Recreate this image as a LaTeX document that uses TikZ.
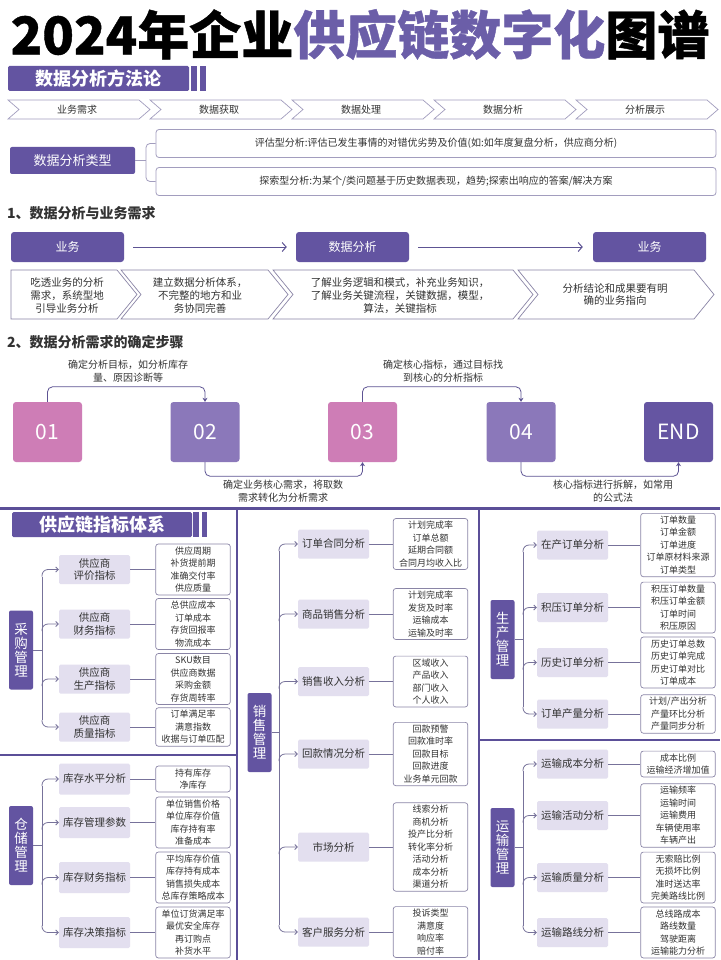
\documentclass[tikz,border=0pt]{standalone}
\usepackage{fontspec}
\setmainfont{Noto Sans CJK SC}
\newfontfamily\titlefont[BoldFeatures={FakeBold=0.8}]{Noto Sans CJK SC}
\usetikzlibrary{arrows.meta}
\definecolor{pur}{HTML}{6354A1}
\definecolor{tpur}{HTML}{6B5EA8}
\definecolor{lav}{HTML}{E3DFEF}
\definecolor{lbd}{HTML}{8A85A6}
\definecolor{chv}{HTML}{A29DBE}
\definecolor{txt}{HTML}{333333}
\definecolor{pinkc}{HTML}{CE7DB6}
\definecolor{mpur}{HTML}{8B78BA}
\definecolor{dpur}{HTML}{6555A2}
\definecolor{divc}{HTML}{5B4F98}
\definecolor{brc}{HTML}{77729A}
\definecolor{fc}{HTML}{5D5393}
\tikzset{
 secbox/.style={fill=pur, text=white, rounded corners=1.5pt, inner sep=0, font=\fontsize{18}{18}\selectfont\bfseries},
 bizbox/.style={fill=pur, text=white, rounded corners=3pt, minimum width=113, minimum height=30, inner sep=0, font=\fontsize{12}{12}\selectfont},
 chev/.style={draw=chv, line width=0.7pt, fill=white},
 chevlbl/.style={text=txt, inner sep=0, font=\fontsize{10}{10}\selectfont},
 chevtxt/.style={text=txt, inner sep=0, align=center, font=\fontsize{10.5}{12.7}\selectfont},
 typebox/.style={draw=chv, line width=0.8pt, fill=white, rounded corners=3pt, minimum width=560, minimum height=28, inner sep=0, text=txt, font=\fontsize{10}{10}\selectfont},
 heading/.style={anchor=west, inner sep=0, text=txt, font=\fontsize{14}{14}\selectfont\bfseries},
 stepbox/.style={minimum width=69, minimum height=60, rounded corners=3pt, inner sep=0, text=white, font=\fontsize{21}{21}\selectfont},
 flow/.style={draw=fc, line width=0.8pt, rounded corners=5pt, -{Stealth[length=4pt,width=5pt]}},
 flowlbl/.style={text=txt, inner sep=0, align=center, font=\fontsize{10}{13}\selectfont},
 arr1/.style={draw=fc, line width=1pt, -{Straight Barb[length=4pt,width=9pt]}},
 divline/.style={draw=divc, line width=2pt},
 midbox/.style={fill=lav, rounded corners=1.5pt, minimum width=71, minimum height=29, inner sep=0, align=center, text=txt, font=\fontsize{10.5}{12.5}\selectfont},
 leafbox/.style={draw=lbd, fill=white, line width=0.7pt, rounded corners=2.5pt, align=center, minimum width=74.5, inner xsep=0, inner ysep=2.5pt, text=txt, font=\fontsize{9}{12.5}\selectfont},
 vbox/.style={fill=pur, rounded corners=2pt, minimum width=24, minimum height=79, inner sep=0, align=center, text=white, font=\fontsize{13.5}{14}\selectfont},
 branch/.style={draw=brc, line width=0.8pt, rounded corners=6pt, -{Straight Barb[length=2.5pt,width=5pt]}},
 bline/.style={draw=brc, line width=0.8pt},
 conn/.style={draw=brc, line width=0.8pt}
}
% name, trunk x, mid x, leaf x, y, mid text, leaf text, offset
\newcommand{\mkbr}[8]{%
 \node[midbox] (#1m) at (#3,#5) {#6};
 \node[leafbox] (#1l) at (#4,#5) {#7};
 \draw[conn] (#1m.east) -- (#1l.west);
 \draw[branch] (#2,#5#8) |- (#1m.west);
}
\newcommand{\chevA}[3]{%
 \draw[chev] (#1,100) -- ++(131,0) -- ++(11,9.5) -- ++(-11,9.5) -- ++(-131,0) -- ++(11,-9.5) -- cycle;
 \node[chevlbl] (#3) at (#1+69,109.5) {#2};
}
\begin{document}
\begin{tikzpicture}[x=1pt,y=-1pt]
\useasboundingbox[fill=white] (0,0) rectangle (720,960);

% Title
\node[inner sep=0] (title) at (360,34.5) {\titlefont\fontsize{52}{52}\selectfont\bfseries 2024年企业\textcolor{tpur}{供应链数字化}图谱};

% Methodology header
\node[secbox, minimum width=181, minimum height=25] (meth) at (98.5,78.5) {数据分析方法论};
\fill[pur] (191,66) rectangle (197,91);
\fill[pur] (200,66) rectangle (206,91);

% chevron row
\chevA{8}{业务需求}{c1}
\chevA{150}{数据获取}{c2}
\chevA{292}{数据处理}{c3}
\chevA{434}{数据分析}{c4}
\chevA{576}{分析展示}{c5}

% analysis types
\node[fill=pur, text=white, rounded corners=2pt, minimum width=125, minimum height=27, inner sep=0, font=\fontsize{13}{13}\selectfont] (atype) at (72.5,160.5) {数据分析类型};
\node[typebox] (eval) at (436,143.5) {评估型分析:评估已发生事情的对错优劣势及价值(如:如年度复盘分析，供应商分析)};
\node[typebox] (expl) at (436,181.5) {探索型分析:为某个/类问题基于历史数据表现，趋势;探索出响应的答案/解决方案};
\coordinate (bk) at (146,160.5);
\draw[draw=chv, line width=0.8pt, rounded corners=4pt] (eval.west) -- (146,143.5) -- (146,181.5) -- (expl.west);
\draw[draw=chv, line width=0.8pt] (atype.east) -- (bk);

% Section 1
\node[heading] (h1) at (7,213.5) {1、数据分析与业务需求};
\node[bizbox] (t1) at (67.5,247) {业务};
\node[bizbox] (t2) at (352.5,247) {数据分析};
\node[bizbox] (t3) at (649.5,247) {业务};
\draw[arr1] ([xshift=9pt]t1.east) -- ([xshift=-9pt]t2.west);
\draw[arr1] ([xshift=9pt]t2.east) -- ([xshift=-10pt]t3.west);

\draw[chev, draw=lbd] (11,270) -- (117,270) -- (137,294.5) -- (117,319) -- (11,319) -- cycle;
\draw[chev, draw=lbd] (121,270) -- (268,270) -- (288,294.5) -- (268,319) -- (121,319) -- (141,294.5) -- cycle;
\draw[chev, draw=lbd] (273,270) -- (513,270) -- (533,294.5) -- (513,319) -- (273,319) -- (293,294.5) -- cycle;
\draw[chev, draw=lbd] (518,270) -- (694,270) -- (714,294.5) -- (694,319) -- (518,319) -- (538,294.5) -- cycle;
\node[chevtxt] (r1) at (67,295.5) {吃透业务的分析\\需求，系统型地\\引导业务分析};
\node[chevtxt] (r2) at (200,295.5) {建立数据分析体系，\\不完整的地方和业\\务协同完善};
\node[chevtxt] (r3) at (400,295.5) {了解业务逻辑和模式，补充业务知识，\\了解业务关键流程，关键数据，模型，\\算法，关键指标};
\node[chevtxt] (r4) at (615,294.5) {分析结论和成果要有明\\确的业务指向};

% Section 2
\node[heading] (h2) at (7,342) {2、数据分析需求的确定步骤};
\node[stepbox, fill=pinkc] (s1) at (47.5,432) {01};
\node[stepbox, fill=mpur] (s2) at (205,432) {02};
\node[stepbox, fill=pinkc] (s3) at (362.5,432) {03};
\node[stepbox, fill=mpur] (s4) at (521,432) {04};
\node[stepbox, fill=dpur] (s5) at (678.5,432) {END};
\draw[flow] (s1.north) -- ++(0,-15) -| (s2.north);
\draw[flow] (s2.south) -- ++(0,14) -| (s3.south);
\draw[flow] (s3.north) -- ++(0,-15) -| (s4.north);
\draw[flow] (s4.south) -- ++(0,14) -| (s5.south);
\node[flowlbl] (l1) at (128,371.5) {确定分析目标，如分析库存\\量、原因诊断等};
\node[flowlbl] (l2) at (283,491) {确定业务核心需求，将取数\\需求转化为分析需求};
\node[flowlbl] (l3) at (443,371.5) {确定核心指标，通过目标找\\到核心的分析指标};
\node[flowlbl] (l4) at (613,491) {核心指标进行拆解，如常用\\的公式法};

% Frame of bottom part
\draw[draw=divc, line width=3pt] (0,508) -- (720,508);
\draw[divline] (237,508) -- (237,960);
\draw[divline] (479,508) -- (479,960);
\draw[divline] (0,755) -- (237,755);
\draw[divline] (479,740) -- (720,740);

\node[secbox, minimum width=180, minimum height=25] (sci) at (102,524.5) {供应链指标体系};
\fill[pur] (193,512) rectangle (199,537);
\fill[pur] (202,512) rectangle (207,537);

% Purchasing
\node[vbox] (va) at (21,650) {采\\购\\管\\理};
\mkbr{a1}{42}{94.5}{193}{569.5}{供应商\\评价指标}{供应周期\\补货提前期\\准确交付率\\供应质量}{+7}
\mkbr{a2}{42}{94.5}{193}{624}{供应商\\财务指标}{总供应成本\\订单成本\\存货回报率\\物流成本}{+7}
\mkbr{a3}{42}{94.5}{193}{679}{供应商\\生产指标}{SKU数目\\供应商数据\\采购金额\\存货周转率}{+7}
\mkbr{a4}{42}{94.5}{193}{727}{供应商\\质量指标}{订单满足率\\满意指数\\收据与订单匹配}{-7}
\draw[bline] (va.east) -- (42,650);
\draw[bline] (42,576.5) -- (42,720);

% Warehouse
\node[vbox] (vb) at (21,845.5) {仓\\储\\管\\理};
\begin{scope}[midbox/.append style={minimum height=31}]
\mkbr{b1}{42}{94.5}{193}{779}{库存水平分析}{持有库存\\净库存}{+7}
\mkbr{b2}{42}{94.5}{193}{822.5}{库存管理参数}{单位销售价格\\单位库存价值\\库存持有率\\准备成本}{+7}
\mkbr{b3}{42}{94.5}{193}{877.5}{库存财务指标}{平均库存价值\\库存持有成本\\销售损失成本\\总库存策略成本}{+7}
\mkbr{b4}{42}{94.5}{193}{932.5}{库存决策指标}{单位订货满足率\\最优安全库存\\再订购点\\补货水平}{-7}
\end{scope}
\draw[bline] (vb.east) -- (42,845.5);
\draw[bline] (42,786) -- (42,925.5);

% Sales
\node[vbox] (vc) at (259.5,732.5) {销\\售\\管\\理};
\mkbr{c1}{279}{333.5}{430.5}{544}{订单合同分析}{计划完成率\\订单总额\\延期合同额\\合同月均收入比}{+7}
\mkbr{c2}{279}{333.5}{430.5}{614}{商品销售分析}{计划完成率\\发货及时率\\运输成本\\运输及时率}{+7}
\mkbr{c3}{279}{333.5}{430.5}{681.5}{销售收入分析}{区域收入\\产品收入\\部门收入\\个人收入}{+7}
\mkbr{c4}{279}{333.5}{430.5}{754}{回款情况分析}{回款预警\\回款准时率\\回款目标\\回款进度\\业务单元回款}{+7}
\mkbr{c5}{279}{333.5}{430.5}{847}{市场分析}{线索分析\\商机分析\\投产比分析\\转化率分析\\活动分析\\成本分析\\渠道分析}{+7}
\mkbr{c6}{279}{333.5}{430.5}{932}{客户服务分析}{投诉类型\\满意度\\响应率\\赔付率}{-7}
\draw[bline] (vc.east) -- (279,732.5);
\draw[bline] (279,551) -- (279,925);

% Production
\node[vbox] (vd) at (502.5,639.5) {生\\产\\管\\理};
\mkbr{d1}{523}{572.5}{678}{545}{在产订单分析}{订单数量\\订单金额\\订单进度\\订单原材料来源\\订单类型}{+7}
\mkbr{d2}{523}{572.5}{678}{607.5}{积压订单分析}{积压订单数量\\积压订单金额\\订单时间\\积压原因}{+7}
\mkbr{d3}{523}{572.5}{678}{662.5}{历史订单分析}{历史订单总数\\历史订单完成\\历史订单对比\\订单成本}{+7}
\mkbr{d4}{523}{572.5}{678}{714}{订单产量分析}{计划/产出分析\\产量环比分析\\产量同步分析}{-7}
\draw[bline] (vd.east) -- (523,639.5);
\draw[bline] (523,552) -- (523,707);

% Transport
\node[vbox] (ve) at (502.5,847.5) {运\\输\\管\\理};
\mkbr{e1}{523}{572.5}{678}{764}{运输成本分析}{成本比例\\运输经济增加值}{+7}
\mkbr{e2}{523}{572.5}{678}{815.5}{运输活动分析}{运输频率\\运输时间\\运输费用\\车辆使用率\\车辆产出}{+7}
\mkbr{e3}{523}{572.5}{678}{877.5}{运输质量分析}{无索赔比例\\无损坏比例\\准时送达率\\完美路线比例}{+7}
\mkbr{e4}{523}{572.5}{678}{932.5}{运输路线分析}{总线路成本\\路线数量\\驾驶距离\\运输能力分析}{-7}
\draw[bline] (ve.east) -- (523,847.5);
\draw[bline] (523,771) -- (523,925.5);

\end{tikzpicture}
\end{document}
